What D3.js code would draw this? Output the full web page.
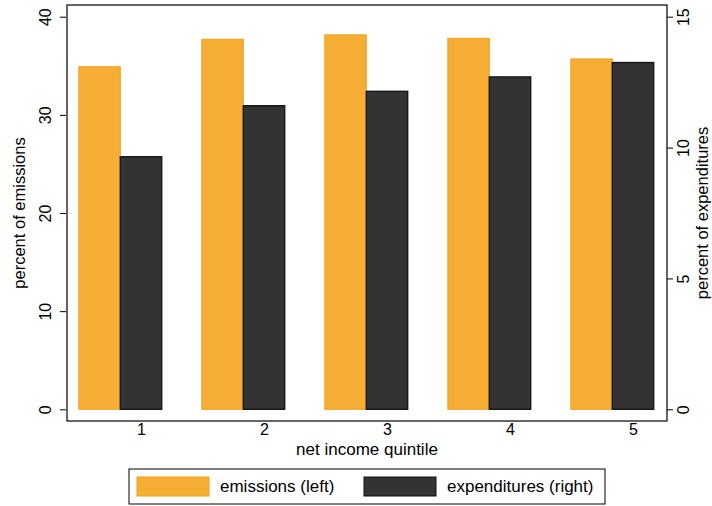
<!DOCTYPE html>
<html>
<head>
<meta charset="utf-8">
<script src="https://cdn.jsdelivr.net/npm/d3@7"></script>
<style>
html,body{margin:0;padding:0;background:#fff;}
svg{display:block;font-family:"Liberation Sans",Arial,Helvetica,sans-serif;}
</style>
</head>
<body>
<svg id="chart" width="712" height="506"></svg>
<script>
const quintiles = [1, 2, 3, 4, 5];
const emissions = [34.9, 37.7, 38.15, 37.8, 35.7];
const expenditures = [9.65, 11.6, 12.15, 12.7, 13.25];
const leftTicks = [0, 10, 20, 30, 40];
const rightTicks = [0, 5, 10, 15];
const seriesNames = ["emissions (left)", "expenditures (right)"];
const colors = ["#f5ae33", "#333333"];
const strokes = ["#f0a01c", "#111111"];

const svg = d3.select("#chart");
const frame = {left: 67, right: 667, top: 5, bottom: 421};

const x = d3.scaleLinear().domain([1, 5]).range([141, 633]);
const yL = d3.scaleLinear().domain([0, 40]).range([409.3, 16.7]);
const yR = d3.scaleLinear().domain([0, 15]).range([409.3, 16.7]);
const bw = 0.337;

// frame
svg.append("rect")
  .attr("x", frame.left).attr("y", frame.top)
  .attr("width", frame.right - frame.left).attr("height", frame.bottom - frame.top)
  .attr("fill", "#fff").attr("stroke", "#000").attr("stroke-width", 1.2);

// bars
const g = svg.append("g");
g.selectAll("rect.em").data(quintiles).join("rect")
  .attr("class", "em")
  .attr("x", (d) => x(d - 1.5 * bw))
  .attr("width", (d) => x(d - 0.5 * bw) - x(d - 1.5 * bw))
  .attr("y", (d, i) => yL(emissions[i]))
  .attr("height", (d, i) => yL(0) - yL(emissions[i]))
  .attr("fill", colors[0]).attr("stroke", strokes[0]).attr("stroke-width", 1);

g.selectAll("rect.ex").data(quintiles).join("rect")
  .attr("class", "ex")
  .attr("x", (d) => x(d - 0.5 * bw))
  .attr("width", (d) => x(d + 0.5 * bw) - x(d - 0.5 * bw))
  .attr("y", (d, i) => yR(expenditures[i]))
  .attr("height", (d, i) => yR(0) - yR(expenditures[i]))
  .attr("fill", colors[1]).attr("stroke", strokes[1]).attr("stroke-width", 1.3);

// left axis
const la = svg.append("g").attr("transform", `translate(${frame.left - 1},0)`)
  .call(d3.axisLeft(yL).tickValues(leftTicks).tickSize(6).tickPadding(4));
la.select(".domain").remove();
la.selectAll("line").attr("stroke", "#000");
la.selectAll("text")
  .attr("font-size", 16).attr("fill", "#000")
  .attr("text-anchor", "middle")
  .attr("x", 0).attr("y", 0).attr("dy", "0.35em")
  .attr("transform", "translate(-21,0) rotate(-90)");

// right axis
const ra = svg.append("g").attr("transform", `translate(${frame.right},0)`)
  .call(d3.axisRight(yR).tickValues(rightTicks).tickSize(6).tickPadding(4));
ra.select(".domain").remove();
ra.selectAll("line").attr("stroke", "#000");
ra.selectAll("text")
  .attr("font-size", 16).attr("fill", "#000")
  .attr("text-anchor", "middle")
  .attr("x", 0).attr("y", 0).attr("dy", "0.35em")
  .attr("transform", "translate(16,0) rotate(-90)");

// bottom axis labels (no tick marks)
const ba = svg.append("g").attr("transform", `translate(0,${frame.bottom})`)
  .call(d3.axisBottom(x).tickValues(quintiles).tickFormat(d3.format("d")).tickSize(0).tickPadding(3));
ba.select(".domain").remove();
ba.selectAll("text").attr("font-size", 16).attr("fill", "#000");

// axis titles
svg.append("text").attr("transform", "translate(25,213) rotate(-90)")
  .attr("text-anchor", "middle").attr("font-size", 16.5).text("percent of emissions");
svg.append("text").attr("transform", "translate(708,213) rotate(-90)")
  .attr("text-anchor", "middle").attr("font-size", 16.5).text("percent of expenditures");
svg.append("text").attr("x", 367).attr("y", 455)
  .attr("text-anchor", "middle").attr("font-size", 17).text("net income quintile");

// legend
const lg = svg.append("g");
lg.append("rect").attr("x", 129).attr("y", 469).attr("width", 476).attr("height", 35)
  .attr("fill", "#fff").attr("stroke", "#000").attr("stroke-width", 1);
const legX = [137, 364];
seriesNames.forEach((name, i) => {
  lg.append("rect").attr("x", legX[i]).attr("y", 477).attr("width", 72).attr("height", 19)
    .attr("fill", colors[i]).attr("stroke", strokes[i]).attr("stroke-width", 1);
  lg.append("text").attr("x", legX[i] + 83).attr("y", 492)
    .attr("font-size", 17).text(name);
});
</script>
</body>
</html>
